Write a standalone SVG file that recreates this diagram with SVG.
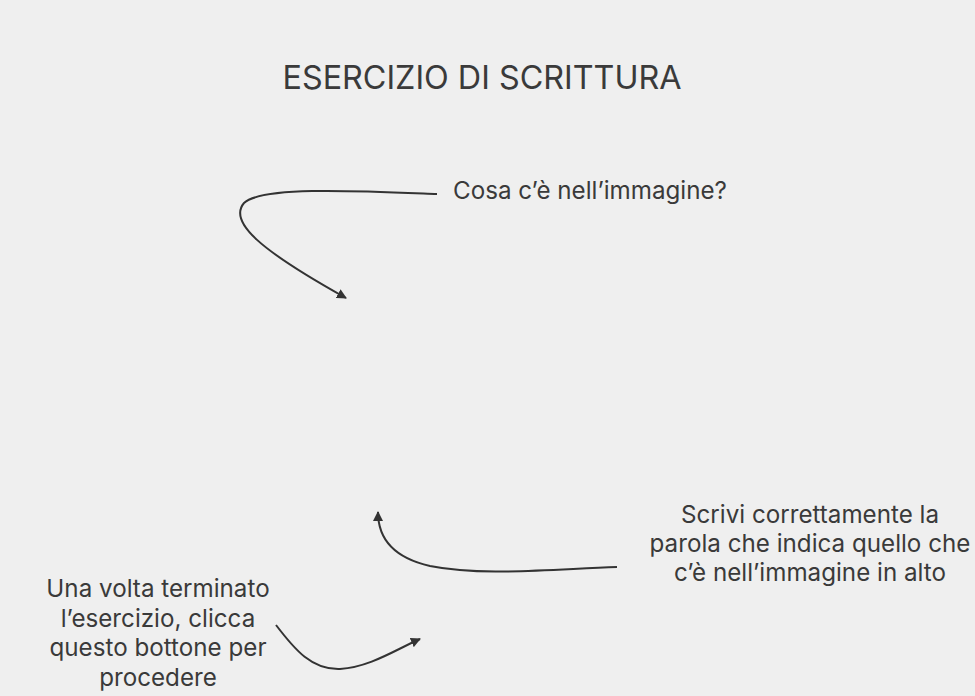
<svg xmlns="http://www.w3.org/2000/svg" width="975" height="696" viewBox="0 0 975 696">
<defs>
<marker id="ah" viewBox="0 0 10 10" refX="9" refY="5" markerWidth="10" markerHeight="10" markerUnits="userSpaceOnUse" orient="auto">
<path d="M0,0 L10,5 L0,10 z" fill="#333"/>
</marker>
</defs>
<style>
text{font-family:Inter,"Noto Sans","Liberation Sans",sans-serif;fill:#3a3a3a;text-anchor:middle}
.t{font-size:32.3px}
.l{font-size:24.2px}
.c{fill:none;stroke:#333;stroke-width:2;marker-end:url(#ah)}
</style>
<rect width="975" height="696" fill="#efefef"/>
<g id="title"><text class="t" x="482" y="89">ESERCIZIO DI SCRITTURA</text></g>
<g id="label-top"><text class="l" x="590" y="199">Cosa c’è nell’immagine?</text></g>
<g id="label-right"><text class="l" x="810" y="523">Scrivi correttamente la</text><text class="l" x="810" y="552">parola che indica quello che</text><text class="l" x="810" y="581">c’è nell’immagine in alto</text></g>
<g id="label-left"><text class="l" x="158" y="597">Una volta terminato</text><text class="l" x="158" y="627">l’esercizio, clicca</text><text class="l" x="158" y="656">questo bottone per</text><text class="l" x="158" y="686">procedere</text></g>
<g id="connectors">
<path class="c" d="M437,194 C360,191 262,186 244,203 C228,222 260,250 346,298"/>
<path class="c" d="M617,567 C540,570 480,576 430,566 C395,558 378,540 378,512"/>
<path class="c" d="M276,625 C295,650 312,670 340,669 C370,667 395,650 420,639"/>
</g>
</svg>
